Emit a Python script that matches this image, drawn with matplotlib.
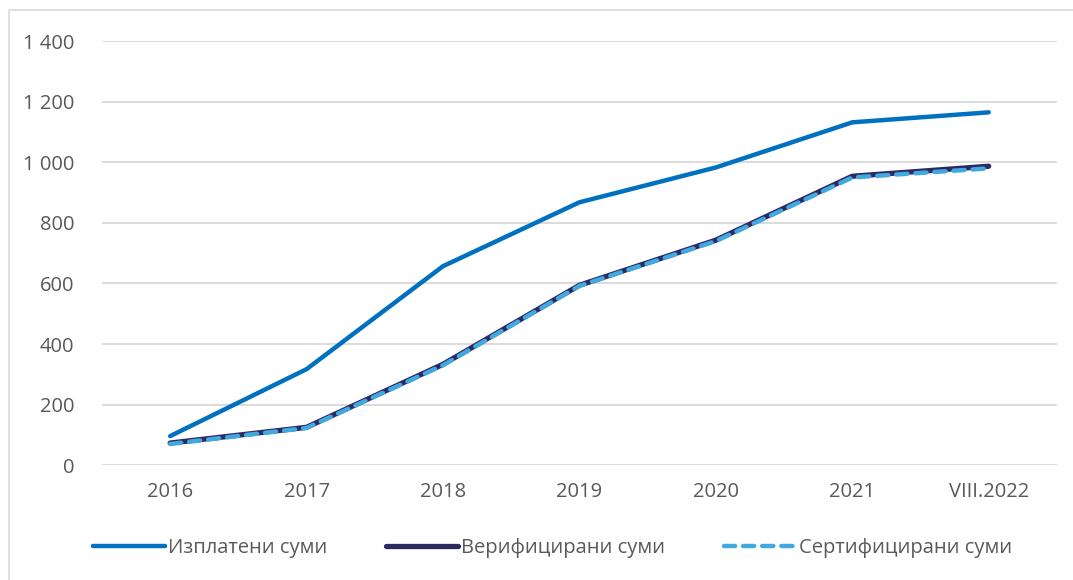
import matplotlib
matplotlib.use('Agg')
import matplotlib.pyplot as plt
from matplotlib.patches import Rectangle

plt.rcParams['font.family'] = ['Open Sans', 'DejaVu Sans']

# ---- данни ----
categories = ['2016', '2017', '2018', '2019', '2020', '2021', 'VIII.2022']
paid = [96, 317, 657, 868, 983, 1132, 1165]          # Изплатени суми
verified = [73, 125, 333, 594, 743, 954, 987]        # Верифицирани суми
certified = [70, 123, 330, 592, 740, 950, 980]       # Сертифицирани суми
yticks = [0, 200, 400, 600, 800, 1000, 1200, 1400]

TXT = '#595959'

fig = plt.figure(figsize=(10.73, 5.80), dpi=100)
ax = fig.add_axes([0.095, 0.198, 0.89, 0.731])

x = range(len(categories))
ax.plot(x, paid, color='#0070C0', lw=3.2, solid_capstyle='round', label='Изплатени суми')
ax.plot(x, verified, color='#2B2A63', lw=3.8, solid_capstyle='round', label='Верифицирани суми')
ax.plot(x, certified, color='#41A8E0', lw=3.2, ls=(0, (2.5, 1.8)), dash_capstyle='round',
        label='Сертифицирани суми')

ax.set_xlim(-0.5, len(categories) - 0.5)
ax.set_ylim(0, 1400)
ax.set_yticks(yticks)
ax.set_yticklabels([f'{v:,}'.replace(',', ' ') for v in yticks])
ax.set_xticks(list(x))
ax.set_xticklabels(categories)
ax.grid(axis='y', color='#D9D9D9', lw=1.3)
ax.set_axisbelow(True)
for s in ax.spines.values():
    s.set_visible(False)
ax.tick_params(length=0, labelsize=14.5, colors=TXT, pad=12)
ax.tick_params(axis='y', pad=20)

leg = fig.legend(loc='center', bbox_to_anchor=(0.515, 0.055), ncol=3, frameon=False,
                 fontsize=14.5, handlelength=3.6, columnspacing=2.9, handletextpad=0.15)
for t in leg.get_texts():
    t.set_color(TXT)

# рамка около диаграмата
fig.patches.append(Rectangle((0.008, -0.01), 1.0, 0.993, transform=fig.transFigure,
                             fill=False, edgecolor='#D9D9D9', lw=1.2))

fig.savefig('out.png', dpi=100)
